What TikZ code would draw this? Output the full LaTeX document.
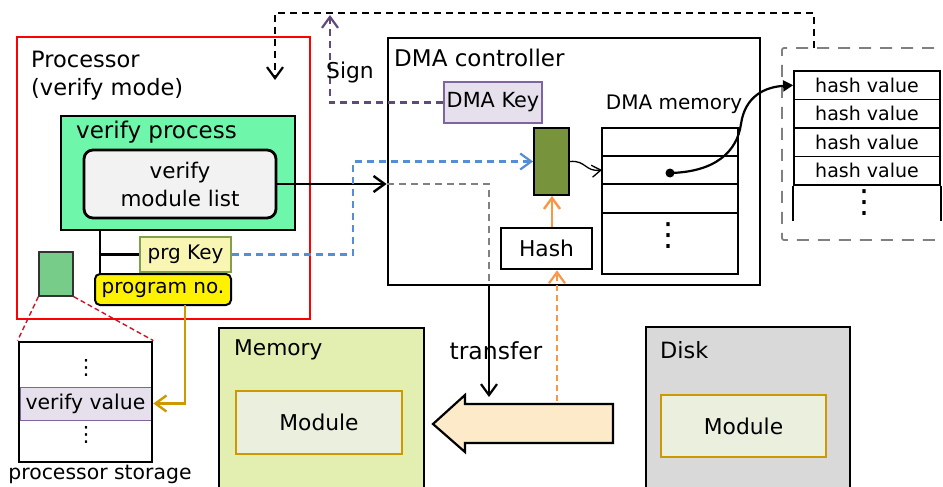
\documentclass[tikz,border=0pt]{standalone}
\usepackage{fontspec}
\setmainfont{DejaVu Sans}
\usetikzlibrary{arrows.meta,calc}

\definecolor{procred}{RGB}{255,0,0}
\definecolor{vpgreen}{RGB}{110,247,170}
\definecolor{mlgray}{RGB}{242,242,242}
\definecolor{pkfill}{RGB}{249,246,180}
\definecolor{pkborder}{RGB}{128,160,80}
\definecolor{icongreen}{RGB}{120,204,138}
\definecolor{rowfill}{RGB}{229,224,236}
\definecolor{rowline}{RGB}{128,100,162}
\definecolor{signpurple}{RGB}{96,74,123}
\definecolor{keyblue}{RGB}{85,142,213}
\definecolor{blockgreen}{RGB}{119,147,60}
\definecolor{hashorange}{RGB}{250,150,70}
\definecolor{goldline}{RGB}{204,153,0}
\definecolor{memfill}{RGB}{226,239,176}
\definecolor{modfill}{RGB}{235,240,222}
\definecolor{diskfill}{RGB}{217,217,217}
\definecolor{arrowfill}{RGB}{252,234,201}
\definecolor{dashgray}{RGB}{128,128,128}
\definecolor{reddash}{RGB}{200,20,40}

\tikzset{
  every node/.style={inner sep=0pt},
  fs/.style={font=\fontsize{#1}{28}\selectfont},
  sz/.style 2 args={minimum width=#1pt, minimum height=#2pt},
  box/.style={draw=black, line width=2.8pt},
  thinbox/.style={draw=black, line width=1.8pt},
  barb/.style={-{Straight Barb[length=11pt,width=16pt]}},
  dashline/.style={dash pattern=on 7pt off 5pt},
}

\begin{document}
\begin{tikzpicture}[x=1pt,y=-1pt]
\useasboundingbox (0,0) rectangle (943,487);
\clip (0,0) rectangle (943,487);

% ---------- processor ----------
\node[draw=procred, line width=2.8pt, sz={293}{282}] (proc) at (163.5,178) {};
\node[fs=22.5, anchor=west, align=left] (proct) at (31,76) {Processor\\(verify mode)};
\node[box, fill=vpgreen, sz={234}{114}] (vp) at (178,173) {};
\node[fs=23, anchor=west] (vpt) at (76,132) {verify process};
\node[box, fs=21.5, fill=mlgray, rounded corners=9pt, sz={192}{68}, align=center] (ml) at (180,184) {verify\\module list};
\node[fs=20, draw=pkborder, fill=pkfill, line width=1.8pt, sz={91}{35}] (pk) at (185.5,254.5) {prg Key};
\node[fs=20, draw=black, fill=yellow, rounded corners=5pt, line width=2pt, sz={136}{31}] (pn) at (163,289.5) {program no.};
\node[draw=black!80, fill=icongreen, line width=1.3pt, sz={34}{44}] (ic) at (56,274) {};

% ---------- processor storage ----------
\node[fill=white, sz={133}{120}] (stbg) at (85.5,402) {};
\node[fs=20.4, draw=rowline, fill=rowfill, line width=1pt, sz={131}{33}] (vv) at (85.5,403.5) {verify value};
\node[box, sz={133}{120}] (st) at (85.5,402) {};
\node[fs=21] (sd1) at (86,368) {⋮};
\node[fs=21] (sd2) at (86,435) {⋮};
\node[fs=20.4] (stt) at (100,474) {processor storage};

% ---------- DMA controller ----------
\node[box, sz={372}{247}] (dma) at (574,161.5) {};
\node[fs=23, anchor=west] (dmat) at (394,58) {DMA controller};
\node[fs=20.8, draw=rowline, fill=rowfill, line width=1.5pt, sz={98}{41}] (dk) at (493,102.5) {DMA Key};
\node[draw=black, fill=blockgreen, line width=1.8pt, sz={35}{67}] (gb) at (551.5,161.5) {};
\node[box, fs=21.8, sz={91}{41}] (hs) at (546.5,248.5) {Hash};
\node[fs=20] (dmt) at (674,104) {DMA memory};
\node[thinbox, sz={136}{146}] (dm) at (670,201) {};
\draw[line width=1.8pt] (602,156) -- (738,156) (602,184) -- (738,184) (602,213) -- (738,213);
\node[fs=32] (dmd) at (668,236) {⋮};
\node[circle, fill=black, minimum size=9pt] (dot) at (670,173) {};

% ---------- hash value table ----------
\draw[dashgray, line width=1.8pt, dash pattern=on 12pt off 9pt, rounded corners=2pt] (955,48) -- (782,48) -- (782,240) -- (955,240);
\node[thinbox, fs=19, fill=white, sz={146}{28.5}] (hv1) at (867,85.25) {hash value};
\node[thinbox, fs=19, fill=white, sz={146}{28.5}] (hv2) at (867,113.75) {hash value};
\node[thinbox, fs=19, fill=white, sz={146}{28.5}] (hv3) at (867,142.25) {hash value};
\node[thinbox, fs=19, fill=white, sz={146}{28.5}] (hv4) at (867,170.75) {hash value};
\draw[line width=1.8pt] (hv4.south west) -- ++(0,35) (hv4.south east) -- ++(0,35);
\node[fs=32] (hvd) at (864,203) {⋮};

% ---------- memory and disk ----------
\node[box, fill=memfill, sz={205}{170}] (mem) at (321.5,413) {};
\node[fs=21.7, anchor=west] (memt) at (234,350) {Memory};
\node[fs=21.8, draw=goldline, fill=modfill, line width=2.4pt, sz={166}{63}] (m1) at (319,422.5) {Module};
\node[box, fill=diskfill, sz={204}{170}] (disk) at (748,412) {};
\node[fs=22.4, anchor=west] (diskt) at (660,350) {Disk};
\node[fs=21.8, draw=goldline, fill=modfill, line width=2.4pt, sz={165}{62}] (m2) at (743.5,426) {Module};

% transfer arrow from disk to memory
\draw[line width=2.2pt, fill=arrowfill, line join=miter]
  (613,404) -- (465,404) -- (465,395) -- (433,424) -- (465,452) -- (465,443) -- (613,443) -- cycle;
\coordinate (bat) at (489,397);
\coordinate (bao) at (557,401);
\node[fs=23.5] (trt) at (496,351) {transfer};

% ---------- connectors ----------
\coordinate (tA) at (100,230);
\coordinate (tB) at (100,274);
\draw[line width=2.8pt] (tA) -- (tB);
\draw[line width=2.8pt] (tA |- pk.west) -- (pk.west);

\draw[line width=2.4pt, barb] (ml.east) -- (ml.east -| dma.west);

\coordinate (bj) at (353,0);
\draw[keyblue, line width=2.2pt, dashline, barb] (pk.east) -- (pk.east -| bj) -- (bj |- gb.west) -- (gb.west);

\coordinate (gj) at (185,305);
\draw[goldline, line width=2.4pt, barb] (gj) -- (gj |- vv.east) -- (st.east |- vv.east);

\draw[reddash, line width=1.4pt, dash pattern=on 5pt off 3pt] (ic.south west) -- (st.north west);
\draw[reddash, line width=1.4pt, dash pattern=on 5pt off 3pt] (ic.south east) -- (st.north east);

\coordinate (sg) at (330,15);
\draw[signpurple, line width=2.2pt, dashline, barb] (dk.west) -- (dk.west -| sg) -- (sg);
\node[fs=21.8] (sgt) at (350,72) {Sign};

\coordinate (ka) at (814,48);
\coordinate (kt) at (0,13);
\coordinate (kb) at (275,80);
\draw[black, line width=2.2pt, dashline, barb] (ka) -- (ka |- kt) -- (kb |- kt) -- (kb);

\coordinate (gy) at (489,0);
\draw[dashgray, line width=2.2pt, dashline] (ml.east -| dma.west) -- (ml.east -| gy) -- (gy |- dma.south);
\draw[line width=2.2pt, barb] (gy |- dma.south) -- (bat);

\draw[hashorange, line width=2.2pt, dash pattern=on 6pt off 4pt, barb] (bao) -- (bao |- hs.south);
\coordinate (oj) at (552,0);
\draw[hashorange, line width=2.4pt, barb] (oj |- hs.north) -- (oj |- gb.south);

\coordinate (dmi) at (602,170);
\draw[line width=1.3pt, -{Straight Barb[length=9pt,width=12pt]}] (gb.east) .. controls (586,160) and (585,172) .. (dmi);

\draw[line width=2.2pt, -{Triangle[length=10pt,width=11pt]}] (dot.center) .. controls (715,172) and (737,152) .. (741,124) .. controls (745,96) and (765,87) .. (hv1.west);
\end{tikzpicture}
\end{document}
